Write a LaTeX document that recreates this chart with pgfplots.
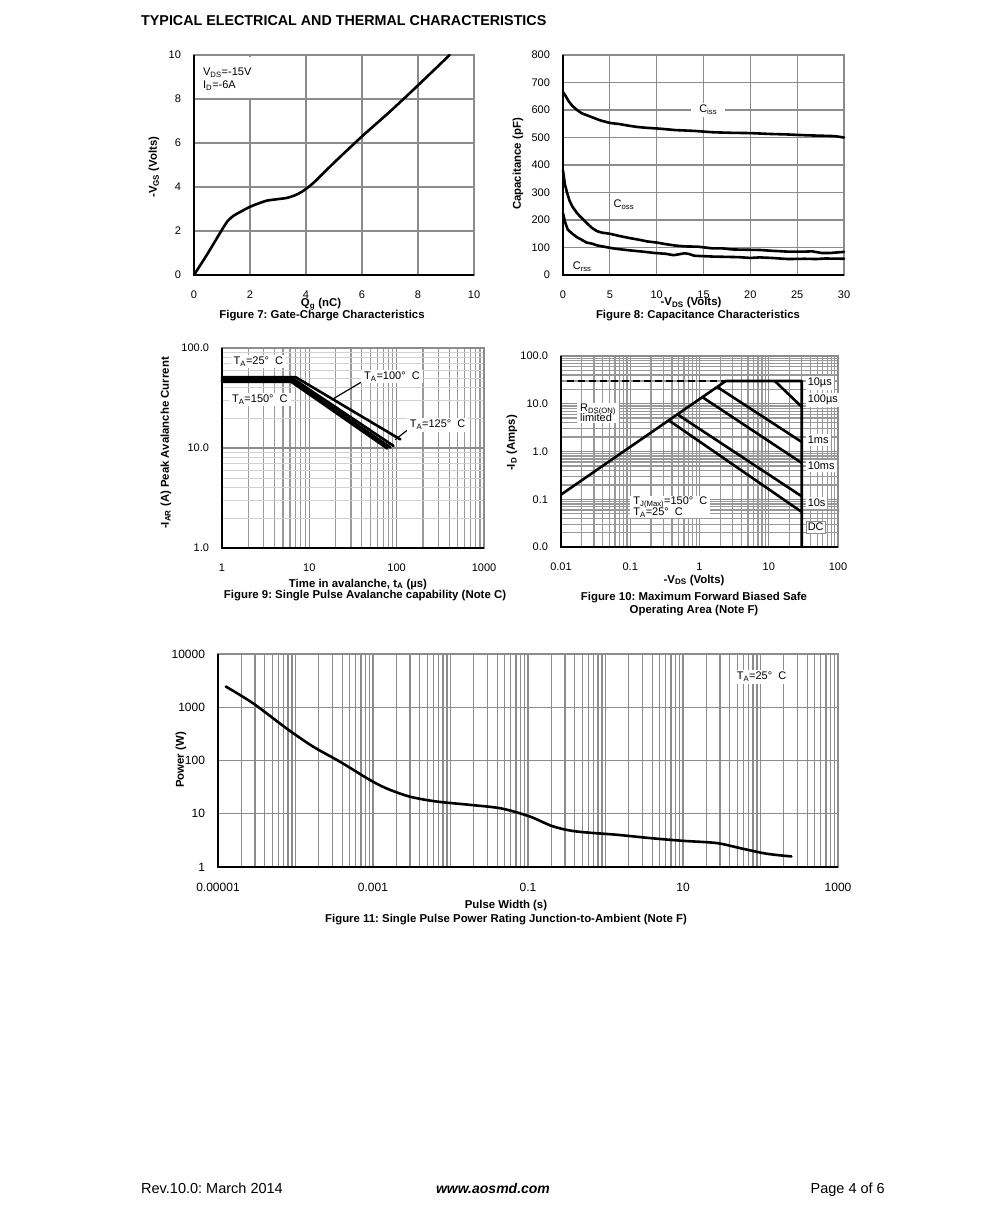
\documentclass[border=0pt]{standalone}
\usepackage{fontspec}
\setmainfont{Liberation Sans}
\usepackage{pgfplots}
\pgfplotsset{compat=1.18}
\frenchspacing

\definecolor{gridc}{gray}{0.55}
\definecolor{gridm}{gray}{0.6}
\definecolor{gridl}{gray}{0.82}

\newcommand{\tickfont}{\fontsize{11}{12}\selectfont}
\newcommand{\labfont}{\fontsize{11.4}{13}\selectfont\bfseries}
\newcommand{\annfont}{\fontsize{11}{13}\selectfont}

\tikzset{
  ln/.style={black, line width=2.6pt, line join=round, line cap=round},
  lab/.style={fill=white, font=\annfont, inner xsep=3pt, inner ysep=2pt},
}
\pgfplotsset{
  ds/.style={
    scale only axis, clip=false,
    axis line style={gridc, line width=1.2pt},
    major grid style={gridc, line width=1.2pt},
    major tick length=0pt, minor tick length=0pt,
    tick label style={font=\tickfont},
    /pgf/number format/assume math mode=true,
    yticklabel style={xshift=-9.5pt},
    xticklabel style={yshift=-12.5pt},
  },
}

\begin{document}
\begin{tikzpicture}
\path[use as bounding box, fill=white] (0pt,0pt) rectangle (991pt,-1231pt);

\node[anchor=base west, font=\fontsize{14.3}{16}\selectfont\bfseries, inner sep=0pt] at (141pt,-26pt) {TYPICAL ELECTRICAL AND THERMAL CHARACTERISTICS};

% ---------------- Figure 7
\begin{axis}[ds, at={(194pt,-55pt)}, anchor=north west, width=280pt, height=220pt,
  xmin=0, xmax=10, ymin=0, ymax=10, xtick={0,2,4,6,8,10}, ytick={0,2,4,6,8,10}, grid=major]
\addplot[ln, smooth, tension=0.4] coordinates {
 (0,0) (0.5,1.0) (1.0,2.06) (1.2,2.45) (1.41,2.69) (1.7,2.9) (2.0,3.1) (2.3,3.25) (2.6,3.38)
 (3.0,3.45) (3.3,3.5) (3.6,3.62) (3.85,3.78) (4.26,4.18) (4.98,5.08) (5.99,6.29) (7.0,7.43)
 (7.95,8.56) (9.13,10)};
\fill[white] (axis cs:0.07,9.93) rectangle (axis cs:2.9,8.05);
\node[anchor=west, font=\annfont, inner sep=0pt] at (axis cs:0.32,9.18) {V\textsubscript{DS}=-15V};
\node[anchor=west, font=\annfont, inner sep=0pt] at (axis cs:0.32,8.62) {I\textsubscript{D}=-6A};
\draw[black, line width=2.6pt] (rel axis cs:0,1) -- (rel axis cs:0,0) -- (rel axis cs:1,0);
\end{axis}

% ---------------- Figure 8
\begin{axis}[ds, at={(563pt,-55pt)}, anchor=north west, width=281pt, height=220pt,
  xmin=0, xmax=30, ymin=0, ymax=800, xtick={0,5,10,15,20,25,30}, ytick={0,100,...,800}, grid=major]
\addplot[ln] coordinates {
 (0,665) (0.3,650) (0.6,632) (1,615) (1.5,600) (2,588) (3,575) (4,562) (5,553) (6,549) (7,543)
 (8,538) (9,535) (10,533) (12,527) (14,524) (16,519) (18,517) (20,516) (22,513) (24,511)
 (26,508) (28,506) (29,505) (30,500)};
\addplot[ln] coordinates {
 (0,380) (0.2,330) (0.43,300) (0.7,270) (1,249) (1.5,225) (2,207) (2.5,190) (3.1,171) (3.6,160)
 (4.15,154) (5,150) (6,142) (7,135) (8,129) (9,122) (10,118) (11,112) (12,107) (13,104)
 (14.4,103) (15.9,97) (17,97) (18,93) (19.4,92) (21,91) (22.3,88) (24,85) (25.8,85) (26.6,86)
 (27.6,80) (28.5,80) (30,84)};
\addplot[ln] coordinates {
 (0,225) (0.2,195) (0.5,165) (1,150) (1.5,137) (2,128) (2.5,118) (3.1,114) (3.6,108) (4.5,102)
 (5.5,96) (7,90) (8.5,85) (9.8,80) (11,77) (11.8,72) (12.5,76) (13,79) (13.5,76) (14,70)
 (16,67) (18.7,65) (20,62) (21,64) (22.3,62) (24,58) (25.8,59) (27,58) (28,60) (30,59)};
\node[lab, inner xsep=8pt] at (axis cs:15.5,600) {C\textsubscript{iss}};
\node[font=\annfont] at (axis cs:6.5,256) {C\textsubscript{oss}};
\node[font=\annfont] at (axis cs:2.05,30) {C\textsubscript{rss}};
\draw[black, line width=2.6pt] (rel axis cs:0,1) -- (rel axis cs:0,0) -- (rel axis cs:1,0);
\end{axis}

% ---------------- Figure 9
\begin{axis}[ds, at={(222pt,-348pt)}, anchor=north west, width=262pt, height=200pt,
  xmode=log, ymode=log, xmin=1, xmax=1000, ymin=1, ymax=100,
  xtick={1,10,100,1000}, xticklabels={1,10,100,1000},
  ytick={1,10,100}, yticklabels={1.0,10.0,100.0},
  minor xtick={2,3,4,5,6,7,8,9,20,30,40,50,60,70,80,90,200,300,400,500,600,700,800,900},
  minor ytick={2,3,4,5,6,7,8,9,20,30,40,50,60,70,80,90},
  grid=both, minor x grid style={gridm, line width=1.1pt}, minor y grid style={gridl, line width=0.8pt}]
\addplot[ln] coordinates {(1,51) (7.0,51) (110,12.2)};
\addplot[ln] coordinates {(1,49) (6.6,49) (92,10.5)};
\addplot[ln] coordinates {(1,47.5) (6.4,47.5) (85,10.1)};
\addplot[ln] coordinates {(1,46) (6.2,46) (78,9.9)};
\draw[black, line width=1.2pt] (axis cs:40,46) -- (axis cs:18.7,31);
\draw[black, line width=1.2pt] (axis cs:135,15.3) -- (axis cs:96,12.1);
\node[lab, anchor=west] at (axis cs:1.25,73) {T\textsubscript{A}=25°\ \ C};
\node[lab, anchor=west] at (axis cs:1.2,30.4) {T\textsubscript{A}=150°\ \ C};
\node[lab, anchor=west] at (axis cs:39,51.6) {T\textsubscript{A}=100°\ \ C};
\node[lab, anchor=west] at (axis cs:130,17) {T\textsubscript{A}=125°\ \ C};
\draw[black, line width=2.6pt] (rel axis cs:0,1) -- (rel axis cs:0,0) -- (rel axis cs:1,0);
\end{axis}

% ---------------- Figure 10
\begin{axis}[ds, at={(561pt,-356pt)}, anchor=north west, width=277pt, height=191pt,
  xmode=log, ymode=log, xmin=0.01, xmax=100, ymin=0.01, ymax=100,
  xtick={0.01,0.1,1,10,100}, xticklabels={0.01,0.1,1,10,100},
  ytick={0.01,0.1,1,10,100}, yticklabels={0.0,0.1,1.0,10.0,100.0},
  minor xtick={0.02,0.03,0.04,0.05,0.06,0.07,0.08,0.09,0.2,0.3,0.4,0.5,0.6,0.7,0.8,0.9,2,3,4,5,6,7,8,9,20,30,40,50,60,70,80,90},
  minor ytick={0.02,0.03,0.04,0.05,0.06,0.07,0.08,0.09,0.2,0.3,0.4,0.5,0.6,0.7,0.8,0.9,2,3,4,5,6,7,8,9,20,30,40,50,60,70,80,90},
  grid=both, minor grid style={gridm, line width=1.3pt}]
\addplot[black, line width=1.6pt, dash pattern=on 7pt off 4pt] coordinates {(0.0121,30) (2.4,30)};
\addplot[ln] coordinates {(0.01,0.125) (2.4,30) (30,30) (30,0.01)};
\addplot[ln] coordinates {(12.2,30) (30,8.6)};
\addplot[ln] coordinates {(1.8,22.5) (30,1.58)};
\addplot[ln] coordinates {(1.1,13.75) (30,0.574)};
\addplot[ln] coordinates {(0.48,6.0) (30,0.115)};
\addplot[ln] coordinates {(0.36,4.5) (30,0.054)};
\node[lab, anchor=west, inner xsep=2pt] at (axis cs:34,27.2) {10µs};
\node[lab, anchor=west, inner xsep=2pt] at (axis cs:34,12) {100µs};
\node[lab, anchor=west, inner xsep=2pt] at (axis cs:34,1.74) {1ms};
\node[lab, anchor=west, inner xsep=2pt] at (axis cs:34,0.5) {10ms};
\node[lab, anchor=west, inner xsep=2pt] at (axis cs:34,0.083) {10s};
\node[lab, anchor=west, inner xsep=2pt, draw=gridc] at (axis cs:34,0.026) {DC};
\node[lab, anchor=west, align=left, inner ysep=1pt] at (axis cs:0.017,6.4) {R\textsubscript{DS(ON)}\\[-3pt]limited};
\node[lab, anchor=west, align=left, inner ysep=1pt] at (axis cs:0.1,0.069) {T\textsubscript{J(Max)}=150°\ \ C\\[-2pt]T\textsubscript{A}=25°\ \ C};
\draw[black, line width=2.6pt] (rel axis cs:0,1) -- (rel axis cs:0,0) -- (rel axis cs:1,0);
\end{axis}

% ---------------- Figure 11
\begin{axis}[ds, at={(218pt,-654pt)}, anchor=north west, width=620pt, height=213pt,
  xmode=log, ymode=log, xmin=1e-5, xmax=1000, ymin=1, ymax=10000,
  tick label style={font=\fontsize{12}{14}\selectfont},
  xtick={1e-5,1e-4,1e-3,1e-2,1e-1,1,10,100,1000}, xticklabels={0.00001,,0.001,,0.1,,10,,1000},
  ytick={1,10,100,1000,10000}, yticklabels={1,10,100,1000,10000},
  minor xtick={2e-5,3e-5,4e-5,5e-5,6e-5,7e-5,8e-5,9e-5,2e-4,3e-4,4e-4,5e-4,6e-4,7e-4,8e-4,9e-4,
   0.002,0.003,0.004,0.005,0.006,0.007,0.008,0.009,0.02,0.03,0.04,0.05,0.06,0.07,0.08,0.09,
   0.2,0.3,0.4,0.5,0.6,0.7,0.8,0.9,2,3,4,5,6,7,8,9,20,30,40,50,60,70,80,90,200,300,400,500,600,700,800,900},
  minor ytick={},
  xmajorgrids=true, ymajorgrids=true, xminorgrids=true, yminorgrids=false,
  minor x grid style={gridc, line width=1.3pt}]
\addplot[ln, smooth, tension=0.5] coordinates {
 (1.26e-5,2450) (2.83e-5,1190) (7.6e-5,404) (1.68e-4,183) (3.7e-4,96) (9.06e-4,43.4)
 (1.49e-3,30) (2.97e-3,21) (6.56e-3,17) (1.77e-2,14.7) (4.5e-2,12.6) (0.105,8.9) (0.21,5.8)
 (0.42,4.65) (1.38,4.04) (3.7,3.5) (10,3.1) (27,2.82) (54,2.27) (119,1.78) (250,1.58)};
\node[lab, anchor=west] at (axis cs:45,3720) {T\textsubscript{A}=25°\ \ C};
\draw[black, line width=2.6pt] (rel axis cs:0,1) -- (rel axis cs:0,0) -- (rel axis cs:1,0);
\end{axis}

% ---------------- labels and captions
\node[font=\labfont, rotate=90] at (154pt,-167pt) {-V\textsubscript{GS} (Volts)};
\node[font=\labfont, anchor=base] at (321pt,-306.5pt) {Q\textsubscript{g} (nC)};
\node[font=\labfont, anchor=base] at (322pt,-318.5pt) {Figure 7: Gate-Charge Characteristics};

\node[font=\labfont, rotate=90] at (518pt,-164pt) {Capacitance (pF)};
\node[font=\labfont, anchor=base] at (691pt,-305.5pt) {-V\textsubscript{DS} (Volts)};
\node[font=\labfont, anchor=base] at (698pt,-318.5pt) {Figure 8: Capacitance Characteristics};

\node[font=\labfont, rotate=90] at (166pt,-443pt) {-I\textsubscript{AR} (A) Peak Avalanche Current};
\node[font=\labfont, anchor=base] at (358pt,-587pt) {Time in avalanche, t\textsubscript{A} (µs)};
\node[font=\labfont, anchor=base] at (365pt,-598pt) {Figure 9: Single Pulse Avalanche capability (Note C)};

\node[font=\labfont, rotate=90] at (512pt,-443pt) {-I\textsubscript{D} (Amps)};
\node[font=\labfont, anchor=base] at (694pt,-583pt) {-V\textsubscript{DS} (Volts)};
\node[font=\labfont, anchor=base] at (694pt,-600pt) {Figure 10: Maximum Forward Biased Safe};
\node[font=\labfont, anchor=base] at (694pt,-613.5pt) {Operating Area (Note F)};

\node[font=\labfont, rotate=90] at (181pt,-760pt) {Power (W)};
\node[font=\labfont, anchor=base] at (506pt,-908pt) {Pulse Width (s)};
\node[font=\labfont, anchor=base] at (506pt,-922pt) {Figure 11: Single Pulse Power Rating Junction-to-Ambient (Note F)};

% ---------------- footer
\node[anchor=base west, font=\fontsize{14.5}{16}\selectfont, inner sep=0pt] at (141pt,-1193pt) {Rev.10.0: March 2014};
\node[anchor=base, font=\fontsize{14}{16}\selectfont\bfseries\itshape, inner sep=0pt] at (493pt,-1193pt) {www.aosmd.com};
\node[anchor=base east, font=\fontsize{14.5}{16}\selectfont, inner sep=0pt] at (885pt,-1193pt) {Page 4 of 6};
\end{tikzpicture}
\end{document}
